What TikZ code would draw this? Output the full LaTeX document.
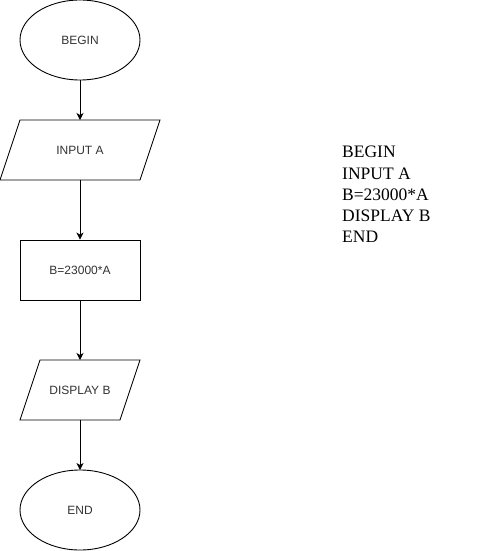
\documentclass[tikz,border=0pt]{standalone}
\usepackage{fontspec}
\setmainfont{Liberation Serif}
\newfontfamily\labelfont{Liberation Sans}
\usetikzlibrary{shapes.geometric,arrows.meta}
\begin{document}
\begin{tikzpicture}[x=1pt,y=-1pt,
  box/.style={draw=black,line width=0.9pt,font=\labelfont\fontsize{12}{14}\selectfont,text=black!80},
  lbl/.style={font=\labelfont\fontsize{12}{14}\selectfont,text=black!80},
  flow/.style={draw=black,line width=0.9pt,-{Stealth[length=7pt,width=7pt,inset=2pt]}}]
\useasboundingbox[fill=white] (0,0) rectangle (501,551);
% BEGIN
\draw[box] (80,40) ellipse [x radius=60, y radius=40];
\node[lbl] (begin) at (80,40) {BEGIN};
\coordinate (beginS) at (80,80);
% INPUT A
\draw[box] (20,120) -- (160,120) -- (140,180) -- (0,180) -- cycle;
\node[lbl] (input) at (80,150) {INPUT A};
\coordinate (inputN) at (80,120);
\coordinate (inputS) at (80,180);
% B=23000*A
\node[box,minimum width=120pt,minimum height=60pt,inner sep=0pt] (calc) at (80,270) {B=23000*A};
% DISPLAY B
\draw[box] (40,360) -- (140,360) -- (120,420) -- (20,420) -- cycle;
\node[lbl] (disp) at (80,390) {DISPLAY B};
\coordinate (dispN) at (80,360);
\coordinate (dispS) at (80,420);
% END
\draw[box] (80,510) ellipse [x radius=60, y radius=40];
\node[lbl] (end) at (80,510) {END};
\coordinate (endN) at (80,470);
% connectors
\draw[flow] (beginS) -- (inputN);
\draw[flow] (inputS) -- (calc.north);
\draw[flow] (calc.south) -- (dispN);
\draw[flow] (dispS) -- (endN);
% pseudocode
\node[anchor=north west,align=left,inner sep=0pt,font=\fontsize{17.5}{21.3}\selectfont] (code) at (342,146)
{BEGIN\\INPUT A\\B=23000*A\\DISPLAY B\\END};
\end{tikzpicture}
\end{document}
